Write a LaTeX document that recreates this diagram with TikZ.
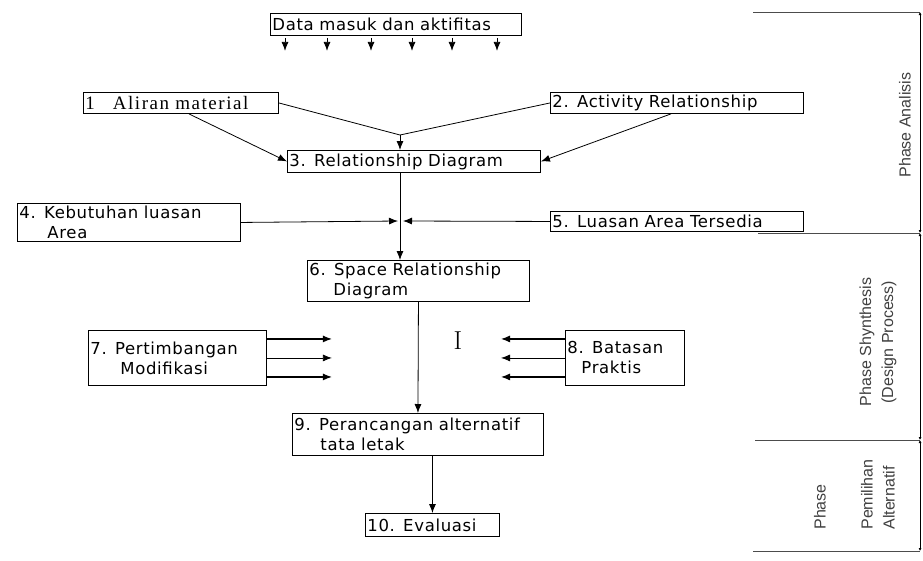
\documentclass[tikz,border=0pt]{standalone}
\usepackage{fontspec}
\usetikzlibrary{arrows.meta,positioning,calc}
\newfontfamily\boxfont[LetterSpace=4]{DejaVu Sans}
\newfontfamily\serbox[LetterSpace=8]{Liberation Serif}
\newfontfamily\phasefont{Liberation Sans}
\tikzset{
  box/.style={draw, line width=0.9pt, anchor=north west, inner xsep=2pt, inner ysep=0.5pt, align=left,
    font=\boxfont\fontsize{16.5}{20}\selectfont},
  phase/.style={rotate=90, inner sep=0pt, text=black!75, font=\phasefont\fontsize{16}{22}\selectfont},
  tick/.style={line width=0.8pt, {Latex[length=3pt,width=3pt]}-{Latex[length=3pt,width=3pt]}}
}

\begin{document}
\begin{tikzpicture}[x=1pt, y=-1pt, line width=0.8pt, >={Latex[length=9pt,width=7pt]}]
  \useasboundingbox (0,0) rectangle (923,560);
  %
  \node[box, text width=247pt, minimum height=22pt] (data) at (270,13) {Data masuk dan aktifitas};
  \foreach \dx in {15,57,101,142,182,227}
    \draw[->] ([xshift=\dx pt, yshift=-2pt]data.south west) -- ++(0,13);
  %
  \node[box, font=\serbox\fontsize{19}{20}\selectfont, text width=191pt, minimum height=21pt] (b1) at (83,92) {1\hspace{18pt}Aliran material};
  \node[box, text width=249pt, minimum height=21pt] (b2) at (550,92) {2. Activity Relationship};
  \node[box, text width=249pt, minimum height=22pt] (b3) at (287,150) {3. Relationship Diagram};
  \node[box, text width=219pt, minimum height=38pt] (b4) at (17,203) {4. Kebutuhan luasan\\\hspace*{28pt}Area};
  \node[box, text width=249pt, minimum height=20pt] (b5) at (550,211) {5. Luasan Area Tersedia};
  \node[box, text width=218pt, minimum height=41pt] (b6) at (307,260) {6. Space Relationship\\\hspace*{24pt}Diagram};
  \node[box, text width=174pt, minimum height=55pt] (b7) at (88,330) {7. Pertimbangan\\\hspace*{30pt}Modifikasi};
  \node[box, text width=115pt, minimum height=55pt] (b8) at (565,330) {8. Batasan\\\hspace*{14pt}Praktis};
  \node[box, text width=247pt, minimum height=42pt] (b9) at (292,413) {9. Perancangan alternatif\\\hspace*{26pt}tata letak};
  \node[box, text width=130pt, minimum height=23pt] (b10) at (365,513) {10. Evaluasi};
  \node[font=\fontsize{26}{26}\selectfont] (bar) at (458,341) {I};
  %
  \coordinate (j1) at (400,135);
  \coordinate (j2) at (400,221);
  \draw (b1.east) -- (j1) -- (b2.west);
  \draw[->] (j1) -- (j1 |- b3.north);
  \draw[->] ([xshift=8pt]b1.south) -- (b3.west);
  \draw[->] ([xshift=-6pt]b2.south) -- (b3.east);
  \draw[->] (j1 |- b3.south) -- (j1 |- b6.north);
  \draw[->] (b4.east) -- ([xshift=-2pt]j2);
  \draw[->] (b5.west) -- ([xshift=3pt]j2);
  \draw[->] (b6.south) -- (b9.north);
  \foreach \dy/\lw in {19/1.1pt,0/0.8pt,-19/1.1pt} {
    \draw[->, line width=\lw] ([yshift=\dy pt]b7.east) -- ++(65,0);
    \draw[->, line width=\lw] ([yshift=\dy pt]b8.west) -- ++(-64,0);
  }
  \draw[->] (b10.north |- b9.south) -- (b10.north);
  %
  \coordinate (t0) at (920,12);
  \coordinate (t1) at (920,233);
  \coordinate (t2) at (920,440);
  \coordinate (t3) at (920,551);
  \draw[black!70] (753,12) -- (t0);
  \draw[black!70] (758,233) -- (t1);
  \draw[black!70] (755,440) -- (t2);
  \draw[black!70] (753,551) -- (t3);
  \draw[tick] (t0) -- (t1);
  \draw[tick] (t1) -- (t2);
  \draw[tick] (t2) -- (t3);
  %
  \node[phase] (pa) at (905,125) {Phase Analisis};
  \node[phase, align=center] (ps) at (878,342) {Phase Shynthesis\\(Design Process)};
  \node[phase, anchor=west] (pp) at (820,530) {Phase};
  \node[phase, align=left, anchor=west] (pm) at (878,530) {Pemilihan\\Alternatif};
\end{tikzpicture}
\end{document}
